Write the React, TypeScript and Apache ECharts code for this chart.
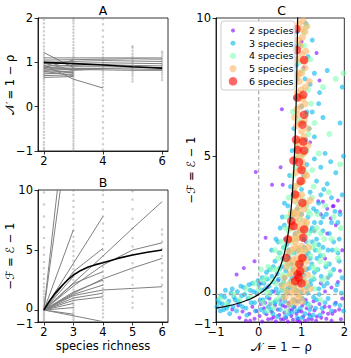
import React, { useEffect, useRef } from "react";
import * as echarts from "echarts";

const FONT = "DejaVu Sans";
const richness = [2, 3, 4, 5, 6];

// Panel A: trajectories of N = 1 - rho across species richness (null = absent)
const linesA: (number | null)[][] = [
  [1.22, 0.88, null, null, null],
  [1.1, 1.1, 1.1, 1.1, 1.1],
  [1.05, 1.06, 1.07, 1.08, 1.07],
  [1.0, 1.02, 1.04, 1.03, 1.02],
  [0.97, 0.98, 0.99, 0.98, 0.97],
  [0.92, 0.93, 0.95, 0.93, 0.92],
  [0.88, 0.9, 0.9, 0.89, 0.88],
  [0.85, 0.86, 0.86, 0.85, 0.84],
  [0.82, 0.84, 0.83, 0.82, 0.82],
  [0.9, 0.82, 0.85, null, null],
  [0.94, 0.62, 0.42, null, null],
  [0.78, 0.8, null, null, null],
  [0.74, 0.77, null, null, null],
  [0.7, 0.72, null, null, null],
  [0.66, 0.68, null, null, null],
  [0.8, 0.7, null, null, null],
  [0.86, 0.75, null, null, null],
  [0.98, 0.82, null, null, null],
  [0.88, 1.05, null, null, null],
];
const meanA = [1.0, 0.97, 0.94, 0.9, 0.87];

const dotsA2 = [-0.98, -0.93, -0.86, -0.8, -0.71, -0.64, -0.57, -0.49, -0.42, -0.36, -0.27, -0.2, -0.12, -0.05, 0.03, 0.1, 0.17, 0.25, 0.31, 0.38, 0.44, 0.51, 0.57, 0.62, 0.66, 0.7, 0.73, 0.77, 0.8, 0.84, 0.87, 0.91, 0.95, 0.99, 1.03, 1.08, 1.12, 1.17, 1.22, 1.29, 1.36, 1.44, 1.52, 1.61, 1.7, 1.79, 1.88, 1.96];
const dotsA3 = [-0.99, -0.94, -0.88, -0.83, -0.77, -0.71, -0.66, -0.6, -0.55, -0.49, -0.43, -0.38, -0.32, -0.26, -0.21, -0.15, -0.09, -0.04, 0.02, 0.08, 0.13, 0.19, 0.25, 0.3, 0.36, 0.41, 0.47, 0.52, 0.58, 0.63, 0.68, 0.72, 0.76, 0.8, 0.84, 0.88, 0.92, 0.96, 1.0, 1.04, 1.09, 1.14, 1.2, 1.26, 1.32, 1.39, 1.46, 1.53, 1.6, 1.67, 1.74, 1.81, 1.88, 1.94, 1.99];
const dotsA4 = [-0.97, -0.85, -0.72, -0.6, -0.48, -0.35, -0.22, -0.1, 0.02, 0.14, 0.26, 0.37, 0.45, 0.53, 0.6, 0.67, 0.73, 0.79, 0.84, 0.89, 0.94, 0.99, 1.05, 1.11, 1.18, 1.26, 1.34, 1.45, 1.58, 1.72, 1.86, 1.98];
const dotsA5 = [0.57, 0.63, 0.69, 0.74, 0.79, 0.83, 0.87, 0.91, 0.95, 0.99, 1.03, 1.08, 1.13, 1.19, 1.26, 1.33, 1.36];
const dotsA6 = [0.6, 0.66, 0.72, 0.77, 0.82, 0.86, 0.9, 0.94, 0.98, 1.03, 1.08, 1.14, 1.2, 1.24];

// Panel B: trajectories of -F = E - 1
const linesB: (number | null)[][] = [
  [0, 22, null, null, null],
  [0, 18, null, null, null],
  [0, 6.7, null, null, null],
  [0, 3.9, 7.8, null, null],
  [0, 2.26, 4.5, 6.8, 9.03],
  [0, 3.2, 5.14, null, null],
  [0, 2.0, 3.75, 5.0, 5.6],
  [0, 1.4, 2.6, 3.5, 4.3],
  [0, 1.2, 1.67, 1.8, 1.94],
  [0, 1.5, 2.5, null, null],
  [0, 1.3, 2.08, null, null],
  [0, 1.0, 1.4, null, null],
  [0, 0.8, 1.1, null, null],
  [0, 0.55, null, null, null],
  [0, 0.2, null, null, null],
  [0, -0.48, -0.97, null, null],
  [0, -0.35, null, null, null],
  [0, 2.8, null, null, null],
  [0, 2.2, 3.2, null, null],
];
// mean curve of panel B, read at intermediate richness values
const meanBx = [2, 2.2, 2.4, 2.6, 2.8, 3, 3.25, 3.5, 3.75, 4, 4.5, 5, 5.5, 6];
const meanBy = [0, 0.8, 1.45, 2.0, 2.5, 2.92, 3.3, 3.58, 3.78, 3.94, 4.3, 4.58, 4.81, 5.0];

const dotsB2 = [-1, -0.85, -0.7, -0.55, -0.4, -0.25, -0.1, 0.05, 0.2, 0.35, 0.5, 0.7, 0.9, 1.1, 1.35, 1.6, 1.9, 2.2, 2.6, 3.0, 3.5, 4.0, 4.6, 5.2, 6.0, 6.9, 7.8, 8.8, 9.8];
const dotsB3 = [-0.98, -0.8, -0.6, -0.4, -0.2, 0, 0.2, 0.4, 0.6, 0.8, 1.0, 1.2, 1.45, 1.7, 1.95, 2.2, 2.5, 2.8, 3.1, 3.4, 3.75, 4.1, 4.5, 4.9, 5.3, 5.7, 6.1, 6.6, 7.1, 7.6, 8.1, 8.6, 9.1, 9.6, 9.95];
const dotsB4 = [-0.6, -0.3, 0, 0.3, 0.6, 0.9, 1.2, 1.5, 1.8, 2.1, 2.4, 2.8, 3.2, 3.6, 4.0, 4.5, 5.0, 5.5, 6.0, 6.6, 7.2, 7.8, 8.4, 9.0, 9.6, 9.95];
const dotsB5 = [0.2, 0.6, 1.1, 1.6, 2.1, 2.7, 3.3, 3.9, 4.6, 5.3, 6.0, 6.8, 7.6, 8.4, 9.2, 9.9];
const dotsB6 = [0.5, 1.0, 1.5, 2.1, 2.7, 3.3, 3.9, 4.5, 5.1, 5.7, 6.3, 6.7];

// Panel C: (N, -F) per community, by species count
const sp2 = [
  [-0.62, -0.55], [-0.45, -0.85], [-0.38, -0.62], [-0.3, -0.95], [-0.22, -0.7], [-0.15, -0.45], [-0.1, -0.88], [-0.05, -0.6], [0.02, -0.78], [0.08, -0.98], [0.12, -0.5], [0.18, -0.72], [0.22, -0.9], [0.27, -0.35], [0.3, -0.62], [0.35, -0.82], [0.4, -0.97], [0.44, -0.55], [0.48, -0.75], [0.52, -0.9], [0.56, -0.4], [0.6, -0.66], [0.64, -0.85], [0.68, -0.98], [0.72, -0.58], [0.76, -0.78], [0.8, -0.92], [0.84, -0.45], [0.88, -0.7], [0.92, -0.88], [0.96, -0.99], [1.0, -0.62], [1.04, -0.8], [1.08, -0.95], [1.12, -0.5], [1.18, -0.72], [1.24, -0.9], [1.3, -0.58], [1.36, -0.8], [1.42, -0.35], [1.5, -0.65], [1.58, -0.88], [1.65, -0.45], [1.72, -0.7], [1.8, -0.3], [1.88, -0.55], [1.95, -0.15],
  [1.55, 0.1], [1.7, 0.25], [1.85, 0.45], [1.62, 0.6], [1.9, 0.85], [1.45, 0.4], [-0.52, 0.72], [-0.1, 1.2], [0.16, 2.05], [-0.35, 0.95], [0.05, 0.4],
  [1.45, 2.9], [1.6, 3.1], [1.75, 3.2], [1.9, 3.0], [1.5, 3.35], [1.68, 2.75], [1.85, 3.4],
  [0.31, 3.97], [0.56, 3.97], [-0.07, 4.43], [0.51, 4.6], [1.39, 3.37], [1.73, 3.19],
  [0.54, 6.7], [1.42, 7.74], [1.35, 8.73], [1.0, 9.15], [1.05, 8.2], [1.2, 5.5], [1.3, 2.3], [1.1, 1.9],
  [0.35, 0.1], [0.45, 0.5], [0.2, 0.25],
  [0.15, -0.3], [0.25, -0.15], [0.38, -0.4], [0.5, -0.2], [0.62, -0.45], [0.7, -0.3], [0.78, -0.55], [0.86, -0.25], [0.94, -0.6], [1.02, -0.4], [1.1, -0.2], [1.16, -0.9], [1.22, -0.45], [1.28, -0.25], [1.34, -0.95], [1.46, -0.85], [1.54, -0.45], [1.62, -0.7], [1.7, -0.95], [1.78, -0.6], [1.92, -0.9], [0.9, -0.95], [0.58, -0.9], [0.3, -0.88], [0.05, -0.35], [-0.2, -0.95], [-0.48, -0.4], [1.6, 2.2], [1.8, 2.5], [1.95, 1.6], [1.55, 1.3],
];
const sp3 = [
  [-0.98, -0.45], [-0.95, -0.2], [-0.9, -0.6], [-0.85, -0.35], [-0.8, -0.1], [-0.75, -0.5], [-0.7, -0.25], [-0.65, 0.05], [-0.6, -0.45], [-0.55, -0.2], [-0.5, 0.1], [-0.45, -0.35], [-0.4, -0.05], [-0.35, 0.25], [-0.3, -0.5], [-0.25, -0.15], [-0.2, 0.15], [-0.15, 0.4], [-0.1, -0.3], [-0.05, 0.05], [0.0, 0.35], [0.05, -0.55], [0.08, 0.6],
  [0.1, -0.2], [0.15, 0.2], [0.2, 0.55], [0.22, -0.45], [0.25, 0.9], [0.3, 0.1], [0.33, -0.7], [0.35, 0.45], [0.38, 1.2], [0.4, -0.25], [0.43, 0.75], [0.45, 0.05], [0.48, 1.5], [0.5, -0.55], [0.52, 0.35], [0.55, 1.0], [0.57, -0.1], [0.6, 0.6], [0.62, -0.8], [0.65, 1.8], [0.67, 0.2], [0.7, -0.4], [0.72, 1.3], [0.75, 0.5], [0.78, -0.65], [0.8, 0.9], [0.82, -0.2], [0.85, 2.2], [0.88, 0.15], [0.9, -0.85], [0.92, 1.6], [0.95, 0.4], [0.97, -0.5], [1.0, 1.1], [1.02, -0.15], [1.05, 0.7], [1.08, -0.7], [1.1, 1.4], [1.12, 0.25], [1.15, -0.35], [1.18, 0.95], [1.2, -0.8], [1.22, 0.5], [1.25, 1.9], [1.28, -0.1], [1.3, 0.8], [1.33, -0.5], [1.36, 1.3], [1.4, 0.2], [1.43, -0.75], [1.46, 0.65], [1.5, 1.7], [1.55, -0.3], [1.6, 0.4], [1.65, 1.1], [1.7, -0.6], [1.75, 0.9], [1.8, 0.15], [1.85, 1.5], [1.9, -0.4], [1.95, 0.6],
  [-0.92, -0.3], [-0.88, -0.05], [-0.82, -0.55], [-0.78, 0.15], [-0.72, -0.4], [-0.68, -0.7], [-0.62, 0.2], [-0.58, -0.1], [-0.52, -0.6], [-0.48, -0.25], [-0.42, 0.3], [-0.38, -0.45], [-0.33, 0.0], [-0.28, -0.75], [-0.23, 0.35], [-0.18, -0.3], [-0.12, 0.1], [-0.08, -0.6], [-0.02, 0.5], [0.03, -0.2], [0.07, 0.15], [0.12, 0.4], [0.14, -0.65], [0.18, 0.8], [0.2, -0.1], [0.24, 0.3], [0.28, -0.55], [0.31, 0.65], [0.34, 1.0], [0.37, -0.3], [0.41, 0.2], [0.44, -0.8], [0.46, 0.55], [0.49, 0.95], [0.51, -0.35], [0.54, 0.15], [0.56, 1.3], [0.58, 0.45], [0.61, -0.25], [0.63, 0.85], [0.66, 0.05], [0.69, 1.45], [0.71, -0.7], [0.73, 0.25], [0.76, 1.1], [0.79, 0.6], [0.81, -0.45], [0.83, 1.5], [0.86, 0.35], [0.89, -0.6], [0.91, 0.75], [0.93, -0.25], [0.96, 1.3], [0.99, 0.1], [1.01, -0.85], [1.03, 0.5], [1.06, 1.7], [1.09, -0.3], [1.11, 0.9], [1.14, 0.05], [1.16, 1.5], [1.19, -0.55], [1.21, 0.35], [1.24, 1.1], [1.27, -0.75], [1.29, 0.55], [1.32, 1.6], [1.35, -0.2], [1.38, 0.9], [1.41, 0.0], [1.44, 1.4], [1.48, -0.5], [1.52, 0.3], [1.57, 1.0], [1.62, -0.15], [1.67, 0.7], [1.72, 1.6], [1.78, -0.35], [1.83, 0.35], [1.88, 1.2], [1.93, 0.05], [1.98, -0.6],
  [0.75, 2.8], [0.8, 3.6], [0.72, 4.3], [0.78, 5.2], [0.82, 6.0], [0.86, 7.1], [0.88, 8.3], [0.9, 9.5], [1.1, 9.8], [1.15, 8.6], [1.2, 7.6], [1.25, 6.6], [1.1, 5.6], [1.3, 4.9], [1.35, 4.1], [1.4, 3.3], [1.45, 2.6], [1.55, 5.1], [1.6, 4.0], [1.65, 2.2], [1.7, 3.5], [1.8, 4.4], [1.9, 6.2], [1.85, 2.6], [1.95, 7.5], [1.5, 6.4], [1.42, 7.3], [1.3, 8.0], [1.6, 8.1], [1.2, 3.7], [1.05, 4.3], [1.0, 6.8], [0.95, 9.0], [1.0, 2.9], [1.35, 2.0], [1.75, 1.9], [1.9, 2.9], [0.7, 1.6], [0.9, 3.1],
  [0.6, 2.5], [0.68, 3.2], [0.74, 3.9], [1.15, 2.8], [1.22, 2.3], [1.28, 3.1], [1.12, 4.7], [1.18, 6.0], [1.3, 5.7], [1.45, 4.6], [1.52, 3.8], [1.58, 2.9], [1.68, 4.8], [1.78, 3.0], [1.95, 3.6], [1.98, 5.0], [1.4, 6.9], [1.08, 7.8], [1.25, 9.2], [0.83, 9.0], [1.12, 6.6], [1.0, 3.8], [0.78, 2.4], [0.95, 2.3], [1.05, 2.0], [1.5, 2.3], [1.62, 1.6], [1.88, 2.0], [1.7, 2.6],
  [0.3, 1.6], [0.4, 2.0], [0.5, 2.4], [0.45, 1.9], [0.55, 2.8], [0.6, 3.3], [1.3, 2.6], [1.4, 1.8], [1.5, 2.8], [1.45, 3.6], [1.35, 3.0], [0.58, 1.7], [0.62, 2.0], [1.2, 1.3], [1.25, 2.4],
];
const sp4 = [
  [0.0, 0.2], [0.1, -0.3], [0.15, 0.6], [0.25, 0.0], [0.3, 0.9], [0.35, -0.5], [0.4, 0.4], [0.45, 1.3], [0.5, -0.1], [0.55, 0.7], [0.6, 1.7], [0.62, 0.1], [0.65, -0.6], [0.68, 1.1], [0.7, 2.3], [0.72, 0.4], [0.75, 3.0], [0.78, 1.5], [0.8, -0.3], [0.82, 3.8], [0.84, 0.8], [0.86, 4.6], [0.88, 2.0], [0.9, 5.5], [0.92, 0.0], [0.94, 6.3], [0.96, 2.7], [0.98, 7.2], [1.0, 1.2], [1.02, 8.1], [1.04, 3.4], [1.06, 9.0], [1.08, 0.5], [1.1, 4.4], [1.12, 9.7], [1.14, 1.9], [1.16, 5.8], [1.18, -0.4], [1.2, 2.9], [1.22, 6.9], [1.25, 1.0], [1.28, 3.9], [1.3, 0.2], [1.35, 2.4], [1.4, 5.1], [1.45, -0.2], [1.5, 1.4], [1.55, 3.2], [1.6, 0.6], [1.7, 2.0], [1.8, 7.8], [1.9, 4.7], [1.98, 8.0], [1.85, 1.3], [1.65, 5.8], [1.5, 7.5], [0.8, 6.6], [0.85, 8.9], [0.9, 7.8], [1.0, 5.0], [1.05, 6.2], [1.15, 7.4], [0.95, 4.0], [1.1, 2.5], [0.7, 1.0], [0.55, 0.2], [0.2, -0.6], [-0.1, 0.4], [-0.2, -0.1], [0.05, 0.9],
  [0.1, 0.5], [0.18, 0.1], [0.22, 1.0], [0.28, -0.3], [0.32, 0.5], [0.38, 1.6], [0.42, -0.2], [0.48, 0.9], [0.52, 1.9], [0.58, 0.4], [0.62, 2.4], [0.66, 1.3], [0.7, 0.7], [0.74, 1.9], [0.77, 2.6], [0.81, 0.2], [0.84, 2.9], [0.87, 1.1], [0.91, 3.3], [0.93, 1.6], [0.97, 0.5], [1.01, 2.3], [1.03, 0.9], [1.07, 1.6], [1.11, 3.2], [1.13, 0.3], [1.17, 2.2], [1.21, 1.4], [1.24, 3.5], [1.27, 0.6], [1.31, 1.8], [1.34, 0.9], [1.38, 2.9], [1.43, 1.2], [1.48, 0.5], [1.53, 2.0], [1.58, 1.1], [1.63, 3.7], [1.68, 0.8], [1.75, 2.8], [1.82, 1.6], [1.92, 2.4], [1.1, 6.5], [0.95, 8.4], [1.2, 8.5], [1.05, 9.5], [0.88, 5.0], [1.12, 5.2], [1.25, 4.5], [0.8, 4.3], [0.84, 7.6], [1.3, 6.2], [-0.3, 0.2], [-0.45, -0.2], [-0.6, 0.0], [-0.75, -0.35], [-0.9, -0.15],
  [0.5, 1.5], [0.6, 1.2], [0.65, 2.8], [0.7, 3.5], [1.15, 3.0], [1.3, 2.3], [1.4, 1.6], [1.25, 1.7], [0.4, 0.9], [1.45, 2.2],
];
const sp5 = [
  [0.72, -0.35], [0.8, -0.2], [0.88, -0.3], [0.95, -0.1], [1.02, -0.25], [0.76, 0.05], [0.84, 0.15], [0.9, 0.0], [0.98, 0.2], [1.06, 0.1], [0.7, 0.35], [0.78, 0.45], [0.86, 0.5], [0.94, 0.4], [1.02, 0.55], [1.1, 0.4], [0.74, 0.75], [0.82, 0.85], [0.9, 0.9], [0.98, 0.8], [1.06, 0.95], [0.72, 1.15], [0.8, 1.25], [0.88, 1.3], [0.96, 1.2], [1.04, 1.35], [1.12, 1.2], [0.76, 1.6], [0.84, 1.7], [0.92, 1.65], [1.0, 1.75], [1.08, 1.6], [0.78, 2.0], [0.86, 2.15], [0.94, 2.05], [1.02, 2.2], [0.8, 2.5], [0.88, 2.6], [0.96, 2.45], [1.04, 2.65], [0.82, 2.95], [0.9, 3.05], [0.98, 2.9], [1.06, 3.1], [0.83, 3.4], [0.92, 3.5], [1.0, 3.6], [0.85, 3.9], [0.94, 4.0], [1.03, 4.1], [0.86, 4.4], [0.95, 4.5], [1.04, 4.6], [0.87, 4.9], [0.96, 5.0], [1.05, 5.1], [0.88, 5.5], [0.97, 5.6], [1.06, 5.7], [0.88, 6.1], [0.97, 6.2], [1.07, 6.3], [0.89, 6.7], [0.98, 6.8], [1.08, 6.9], [0.9, 7.3], [0.99, 7.4], [1.09, 7.5], [0.9, 7.9], [1.0, 8.0], [1.08, 8.2], [0.91, 8.5], [1.0, 8.7], [1.1, 8.8], [0.92, 9.2], [1.02, 9.3], [1.08, 9.5], [0.94, 9.8], [1.04, 9.9], [1.12, 9.7], [1.15, 5.4], [1.2, 3.4], [1.18, 7.7],
  [0.6, 0.6], [0.65, 1.0], [0.68, 1.5], [0.7, 2.0], [0.74, 2.4], [0.66, 0.1], [1.14, 0.7], [1.16, 1.7], [1.12, 2.6], [1.1, 3.3], [0.62, -0.1], [0.55, 0.3], [1.2, 0.2], [0.76, 2.9], [1.12, 4.3], [1.14, 6.0], [0.84, 1.0], [0.92, 2.3], [1.0, 1.3], [1.08, 4.3], [0.84, 6.4], [0.95, 7.1], [1.02, 5.4], [0.93, 8.0],
  [0.86, 3.65], [0.96, 3.2], [1.02, 4.8], [0.9, 5.25], [1.0, 5.9], [0.93, 6.5], [1.03, 7.1], [0.95, 7.7], [1.05, 8.45], [0.97, 9.0], [0.99, 9.6], [0.82, 0.3], [0.9, 1.1], [0.96, 1.5], [0.86, 1.9], [1.08, 2.4], [0.88, 2.8],
];
const sp6 = [
  [0.89, 8.84], [1.06, 8.48], [0.9, 7.12], [1.04, 7.22], [1.06, 6.5], [1.02, 6.14], [0.87, 5.6], [1.04, 5.53], [0.91, 5.23], [1.06, 5.2], [0.94, 4.78], [0.81, 4.84], [1.0, 4.5], [0.85, 3.61], [1.02, 3.31], [0.76, 2.65], [0.81, 2.47], [1.06, 2.35], [0.68, 1.99], [1.04, 2.05], [0.64, 1.32], [1.02, 1.32], [0.91, 0.72], [0.97, 0.84], [0.85, 0.48], [0.93, 0.6], [1.0, 0.4], [0.95, 1.1], [0.88, 9.6], [0.98, 4.1],
];

// Panel C theoretical curve, -F vs N
const curveC = [
  [-1, -0.5], [-0.8, -0.444], [-0.6, -0.375], [-0.4, -0.286], [-0.2, -0.167], [-0.1, -0.091], [0, 0], [0.1, 0.111], [0.2, 0.25], [0.3, 0.429], [0.4, 0.667], [0.45, 0.818], [0.5, 1], [0.55, 1.222], [0.6, 1.5], [0.65, 1.857], [0.7, 2.333], [0.73, 2.704], [0.76, 3.167], [0.79, 3.762], [0.82, 4.556], [0.84, 5.25], [0.86, 6.143], [0.88, 7.333], [0.895, 8.524], [0.91, 10.111],
];

const speciesLabels = ["2 species", "3 species", "4 species", "5 species", "6 species"];
const speciesColors = ["#8000ff", "#00b4ec", "#80ffb4", "#ffb462", "#ff0000"];
const speciesSizes = [4, 5, 6, 7, 8.5];

const fmt = (v: number) => (v < 0 ? "\u2212" + Math.abs(v) : String(v));

function axis(gridIndex: number, min: number, max: number, ticks: number[], formatter: any = fmt, rich: any = undefined) {
  return {
    type: "value",
    gridIndex,
    min,
    max,
    splitLine: { show: false },
    axisLine: { show: true, onZero: false, lineStyle: { color: "#000", width: 0.8 } },
    axisTick: { show: true, inside: false, length: 3.5, customValues: ticks, lineStyle: { color: "#000", width: 0.8 } },
    axisLabel: { customValues: ticks, formatter, rich, margin: 5, fontSize: 11.5, lineHeight: 10, color: "#000", fontFamily: FONT },
  };
}

export default function App() {
  const ref = useRef<HTMLDivElement>(null);
  useEffect(() => {
    if (!ref.current) return;
    const chart = echarts.init(ref.current, null, { renderer: "svg" });
    const grey = "#808080";
    const dotStyle = { color: "rgba(120,120,120,0.45)" };
    const dotSeries = (xi: number, x: number, arr: number[]) => ({
      type: "scatter",
      xAxisIndex: xi,
      yAxisIndex: xi,
      symbolSize: 2.5,
      itemStyle: dotStyle,
      data: arr.map((v) => [x, v]),
      z: 1,
    });
    const lineSeries = (xi: number, pts: (number | null)[][], color: string, width: number, z: number) => ({
      type: "line",
      xAxisIndex: xi,
      yAxisIndex: xi,
      showSymbol: false,
      symbol: "none",
      lineStyle: { color, width },
      data: pts.filter((p) => p[1] !== null),
      z,
      clip: true,
    });
    const byRichness = (vals: (number | null)[]) => richness.map((r, i) => [r, vals[i]]);

    const series: any[] = [];
    [dotsA2, dotsA3, dotsA4, dotsA5, dotsA6].forEach((arr, i) => series.push(dotSeries(0, richness[i], arr)));
    linesA.forEach((l) => series.push(lineSeries(0, byRichness(l), grey, 1, 2)));
    series.push(lineSeries(0, byRichness(meanA), "#000", 1.6, 3));
    [dotsB2, dotsB3, dotsB4, dotsB5, dotsB6].forEach((arr, i) => series.push(dotSeries(1, richness[i], arr)));
    linesB.forEach((l) => series.push(lineSeries(1, byRichness(l), grey, 1, 2)));
    series.push(lineSeries(1, meanBx.map((x, i) => [x, meanBy[i]]), "#000", 1.6, 3));

    [sp2, sp3, sp4, sp5, sp6].forEach((arr, i) =>
      series.push({
        type: "scatter",
        name: speciesLabels[i],
        xAxisIndex: 2,
        yAxisIndex: 2,
        symbolSize: speciesSizes[i],
        itemStyle: { color: speciesColors[i], opacity: 0.6 },
        data: arr,
        z: 2 + i * 0.01,
      })
    );
    series.push({
      type: "line", xAxisIndex: 2, yAxisIndex: 2, symbol: "none",
      lineStyle: { color: "#999", width: 1, type: [4, 2.5] },
      data: [[0, -1], [0, 10]], z: 3,
    });
    series.push({
      type: "line", xAxisIndex: 2, yAxisIndex: 2, symbol: "none",
      lineStyle: { color: "#999", width: 1, type: [4, 2.5] },
      data: [[-1, 0], [2, 0]], z: 3,
    });
    series.push({
      type: "line", xAxisIndex: 2, yAxisIndex: 2, symbol: "none", clip: true,
      lineStyle: { color: "#000", width: 1.2 },
      data: curveC, z: 4,
    });

    const txt = (text: string, x: number, y: number, size: number, rot = 0) => ({
      type: "text",
      x,
      y,
      rotation: rot,
      z: 100,
      style: { text, fontSize: size, fontFamily: FONT, fill: "#000", textAlign: "center", textVerticalAlign: "middle" },
    });

    const lx = 221, ly = 21;
    const legendEls: any[] = [
      { type: "rect", z: 100, shape: { x: lx, y: ly, width: 74, height: 69, r: 3 }, style: { fill: "rgba(255,255,255,0.8)", stroke: "#cccccc", lineWidth: 1 } },
    ];
    speciesLabels.forEach((lab, i) => {
      const cy = ly + 9.5 + i * 12.7;
      legendEls.push({ type: "circle", z: 101, shape: { cx: lx + 12, cy, r: speciesSizes[i] / 2 }, style: { fill: speciesColors[i], opacity: 0.6 } });
      legendEls.push({ type: "text", z: 101, x: lx + 28, y: cy, style: { text: lab, fontSize: 9.5, fontFamily: FONT, fill: "#000", textAlign: "left", textVerticalAlign: "middle" } });
    });

    // panel B y labels: 0 and -1 sit close together; nudge them apart slightly
    const fmtB = (v: number) => (v === 0 ? "{up|0}" : v === -1 ? "{dn|\u22121}" : fmt(v));
    const richB = {
      up: { fontSize: 11.5, fontFamily: FONT, color: "#000", padding: [0, 0, 4, 0] },
      dn: { fontSize: 11.5, fontFamily: FONT, color: "#000", padding: [4, 0, 0, 0] },
    };

    chart.setOption({
      animation: false,
      backgroundColor: "#fff",
      grid: [
        { left: 38, top: 18, width: 130, height: 133, show: true, borderColor: "#000", borderWidth: 0.8, backgroundColor: "transparent" },
        { left: 38, top: 190, width: 130, height: 132, show: true, borderColor: "#000", borderWidth: 0.8, backgroundColor: "transparent" },
        { left: 216, top: 18, width: 131, height: 304, show: true, borderColor: "#000", borderWidth: 0.8, backgroundColor: "transparent" },
      ],
      xAxis: [axis(0, 1.8, 6.2, [2, 4, 6]), axis(1, 1.8, 6.2, [2, 3, 4, 5, 6]), axis(2, -1, 2, [-1, 0, 1, 2])],
      yAxis: [
        axis(0, -1, 2, [-1, 0, 1, 2]),
        axis(1, -1, 10, [-1, 0, 5, 10], fmtB, richB),
        axis(2, -1, 10, [-1, 0, 5, 10], fmtB, richB),
      ],
      series,
      graphic: [
        txt("A", 103, 10, 12.5),
        txt("B", 103, 182, 12.5),
        txt("C", 281.5, 10, 12.5),
        txt("species richness", 103, 346, 11.5),
        txt("\u{1D4A9} = 1 \u2212 \u03C1", 281.5, 347, 11.5),
        txt("\u{1D4A9} = 1 \u2212 \u03C1", 10, 85, 11.5, Math.PI / 2),
        txt("\u2212\u2131 = \u2130 \u2212 1", 10, 256, 11.5, Math.PI / 2),
        txt("\u2212\u2131 = \u2130 \u2212 1", 191, 170, 11.5, Math.PI / 2),
        ...legendEls,
      ],
    });
    return () => chart.dispose();
  }, []);
  return <div ref={ref} style={{ position: "fixed", left: 0, top: 0, width: 351, height: 358 }} />;
}
